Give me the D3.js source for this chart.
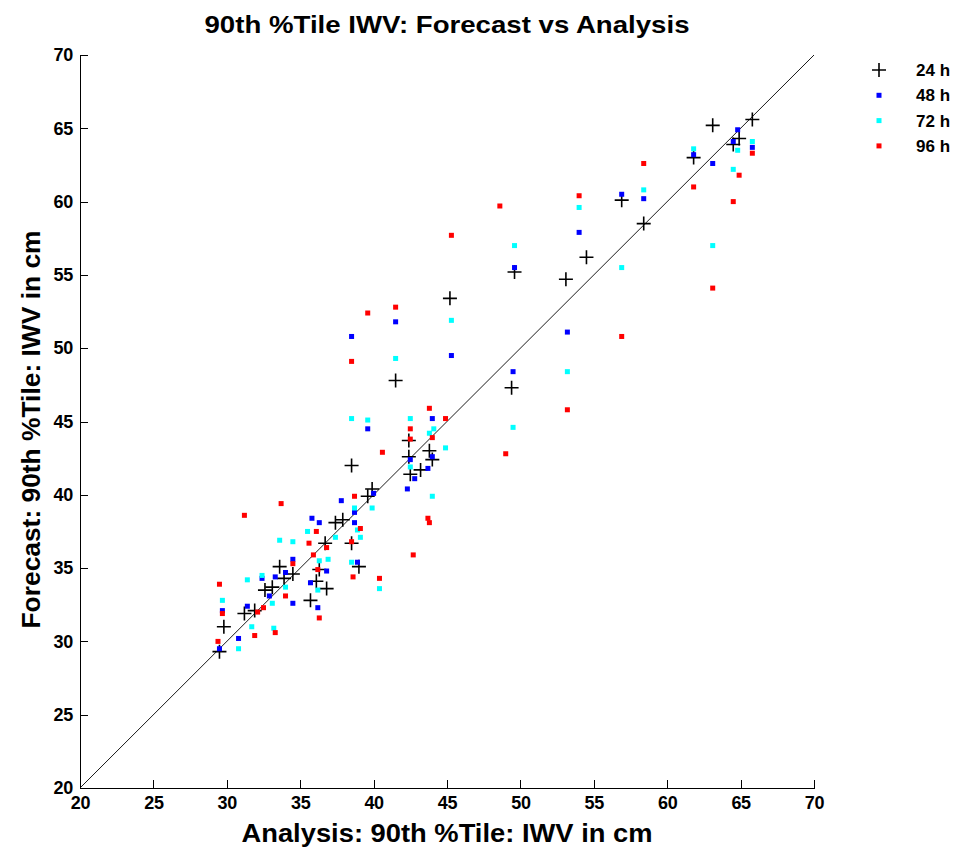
<!DOCTYPE html>
<html>
<head>
<meta charset="utf-8">
<style>
  body { margin: 0; background: #fff; }
  text { font-family: "Liberation Sans", Arial, Helvetica, sans-serif; font-weight: bold; }
</style>
</head>
<body>
<svg width="958" height="850"></svg>
<script src="https://d3js.org/d3.v7.min.js"></script>
<script>

// Analysis (x) and forecast (y) IWV values, one pair of arrays per lead time
var x24 = [29.5,29.8,31.2,31.9,32.6,33.1,33.6,33.9,34.5,35.7,36.1,36.3,36.8,36.7,37.4,37.9,38.5,38.5,39.0,39.6,
           39.9,42.4,42.4,42.5,43.2,43.8,44.0,41.5,45.2,49.4,49.6,53.1,54.5,56.9,58.4,61.8,63.1,64.5,64.9,65.8];
var y24 = [29.3,31.0,31.9,32.1,33.5,33.7,35.1,34.3,34.6,32.8,34.1,34.9,33.6,36.7,38.1,38.3,36.7,42.0,35.1,39.9,
           40.4,43.7,42.6,41.4,41.7,43.0,42.4,47.8,53.4,47.3,55.2,54.7,56.2,60.1,58.5,63.0,65.2,63.9,64.3,65.6];

var x48 = [29.7,29.5,30.8,31.4,32.4,32.9,33.3,34.0,34.5,34.5,35.7,36.2,35.8,36.3,36.8,37.8,38.7,38.7,38.9,40.0,
           39.6,38.5,41.5,45.3,44.0,42.5,43.7,42.8,44.0,42.3,49.5,49.6,53.2,54.0,56.9,58.4,61.8,63.1,64.8,64.5,65.8];
var y48 = [32.1,29.5,30.2,32.4,34.3,33.1,34.4,34.7,35.6,32.6,34.0,32.3,38.4,38.1,34.8,39.6,38.8,38.1,35.4,40.1,
           44.5,50.8,51.8,49.5,45.2,42.4,41.8,41.1,42.6,40.4,48.4,55.5,51.1,57.9,60.5,60.2,63.2,62.6,64.9,64.1,63.7];

var x72 = [29.7,30.8,31.4,32.4,31.7,33.2,33.1,34.0,33.6,34.5,35.5,36.3,36.2,36.9,37.4,38.5,38.9,39.1,39.9,40.4,
           38.7,38.5,39.6,42.5,43.8,44.1,44.9,42.5,44.0,41.5,45.3,49.5,49.6,53.2,54.0,56.9,58.4,61.8,63.1,64.5,64.8,65.8];
var y72 = [32.8,29.5,34.2,34.5,31.0,30.9,32.6,33.7,36.9,36.8,37.5,35.5,33.5,35.6,37.1,35.4,37.6,37.1,39.1,33.6,
           39.1,45.2,45.1,45.2,44.2,44.5,43.2,41.9,39.9,49.3,51.9,44.6,57.0,48.4,59.6,55.5,60.8,63.6,57.0,62.2,63.5,64.1];

var x96 = [29.5,29.7,29.4,31.9,33.3,32.5,32.1,34.0,36.3,36.2,34.5,31.2,33.7,36.1,36.8,35.6,35.9,38.5,38.6,40.4,
           38.7,39.1,40.6,43.8,44.9,42.5,42.5,44.0,43.7,43.8,42.7,39.6,41.5,38.5,48.6,49.0,45.3,54.0,53.2,56.9,
           58.4,61.8,63.1,64.5,64.9,65.8];
var y96 = [33.9,31.9,30.0,30.4,30.6,32.3,32.0,33.1,31.6,34.9,35.3,38.6,39.4,37.5,36.4,36.7,35.9,36.8,34.4,34.3,
           39.9,37.7,42.9,45.9,45.2,44.5,43.8,43.9,38.4,38.1,35.9,52.4,52.8,49.1,59.7,42.8,57.7,60.4,45.8,50.8,
           62.6,61.0,54.1,60.0,61.8,63.3];

var seriesNames = ["24 h", "48 h", "72 h", "96 h"];
var seriesColors = ["#000000", "#0000ff", "#00ffff", "#ff0000"];
var tickVals = [20, 25, 30, 35, 40, 45, 50, 55, 60, 65, 70];

var series = [
    { name: seriesNames[0], color: seriesColors[0], cross: true,  xs: x24, ys: y24 },
    { name: seriesNames[1], color: seriesColors[1], cross: false, xs: x48, ys: y48 },
    { name: seriesNames[2], color: seriesColors[2], cross: false, xs: x72, ys: y72 },
    { name: seriesNames[3], color: seriesColors[3], cross: false, xs: x96, ys: y96 }
];

var svg = d3.select("svg");
var margin = { top: 55, right: 144, bottom: 62, left: 80 };
var width = 958 - margin.left - margin.right,
    height = 850 - margin.top - margin.bottom;

var x = d3.scaleLinear().domain([20, 70]).range([0, width]);
var y = d3.scaleLinear().domain([20, 70]).range([height, 0]);

var g = svg.append("g")
    .attr("transform", "translate(" + margin.left + "," + margin.top + ")");

// axes, ticks pointing inward
var xAxis = g.append("g")
    .attr("transform", "translate(0," + height + ")")
    .call(d3.axisBottom(x).tickValues(tickVals).tickSizeInner(-8).tickSizeOuter(0).tickPadding(8));
var yAxis = g.append("g")
    .call(d3.axisLeft(y).tickValues(tickVals).tickSizeInner(-8).tickSizeOuter(0).tickPadding(7));

[xAxis, yAxis].forEach(function(a) {
    a.selectAll("path, line").attr("stroke", "#000").attr("shape-rendering", "crispEdges");
    a.selectAll("text")
        .attr("fill", "#000")
        .style("font-size", "18px")
        .style("letter-spacing", "-0.3px");
});

// 1:1 line
g.append("line")
    .attr("x1", x(20)).attr("y1", y(20))
    .attr("x2", x(70)).attr("y2", y(70))
    .attr("stroke", "#000")
    .attr("stroke-width", 0.9);

// points
series.forEach(function(s) {
    var pts = s.xs.map(function(v, i) { return [v, s.ys[i]]; });
    var layer = g.append("g");
    if (s.cross) {
        layer.selectAll("path")
            .data(pts)
            .enter().append("path")
            .attr("d", function(d) {
                var px = x(d[0]), py = y(d[1]);
                return "M" + (px - 7) + "," + py + "H" + (px + 7) + "M" + px + "," + (py - 7) + "V" + (py + 7);
            })
            .attr("stroke", s.color)
            .attr("stroke-width", 1.6)
            .attr("fill", "none");
    } else {
        layer.selectAll("rect")
            .data(pts)
            .enter().append("rect")
            .attr("x", function(d) { return x(d[0]) - 2.5; })
            .attr("y", function(d) { return y(d[1]) - 2.5; })
            .attr("width", 5)
            .attr("height", 5)
            .attr("fill", s.color);
    }
});

// legend
var legend = svg.append("g").attr("transform", "translate(879,70)");
series.forEach(function(s, i) {
    var row = legend.append("g").attr("transform", "translate(0," + (i * 25.3) + ")");
    if (s.cross) {
        row.append("path")
            .attr("d", "M-7,0H7M0,-7V7")
            .attr("stroke", s.color)
            .attr("stroke-width", 1.6);
    } else {
        row.append("rect")
            .attr("x", -2.5).attr("y", -2.5)
            .attr("width", 5).attr("height", 5)
            .attr("fill", s.color);
    }
    row.append("text")
        .attr("x", 37)
        .attr("dy", "0.36em")
        .style("font-size", "17px")
        .text(s.name);
});

// title and axis labels
svg.append("text")
    .attr("x", margin.left + width / 2)
    .attr("y", 33)
    .attr("text-anchor", "middle")
    .attr("textLength", 485)
    .attr("lengthAdjust", "spacingAndGlyphs")
    .style("font-size", "24px")
    .text("90th %Tile IWV: Forecast vs Analysis");

svg.append("text")
    .attr("x", margin.left + width / 2)
    .attr("y", 842)
    .attr("text-anchor", "middle")
    .attr("textLength", 411)
    .attr("lengthAdjust", "spacingAndGlyphs")
    .style("font-size", "25px")
    .text("Analysis: 90th %Tile: IWV in cm");

svg.append("text")
    .attr("transform", "translate(40," + (margin.top + height / 2 + 8) + ") rotate(-90)")
    .attr("text-anchor", "middle")
    .attr("textLength", 398)
    .attr("lengthAdjust", "spacingAndGlyphs")
    .style("font-size", "25px")
    .text("Forecast: 90th %Tile: IWV in cm");

</script>
</body>
</html>
